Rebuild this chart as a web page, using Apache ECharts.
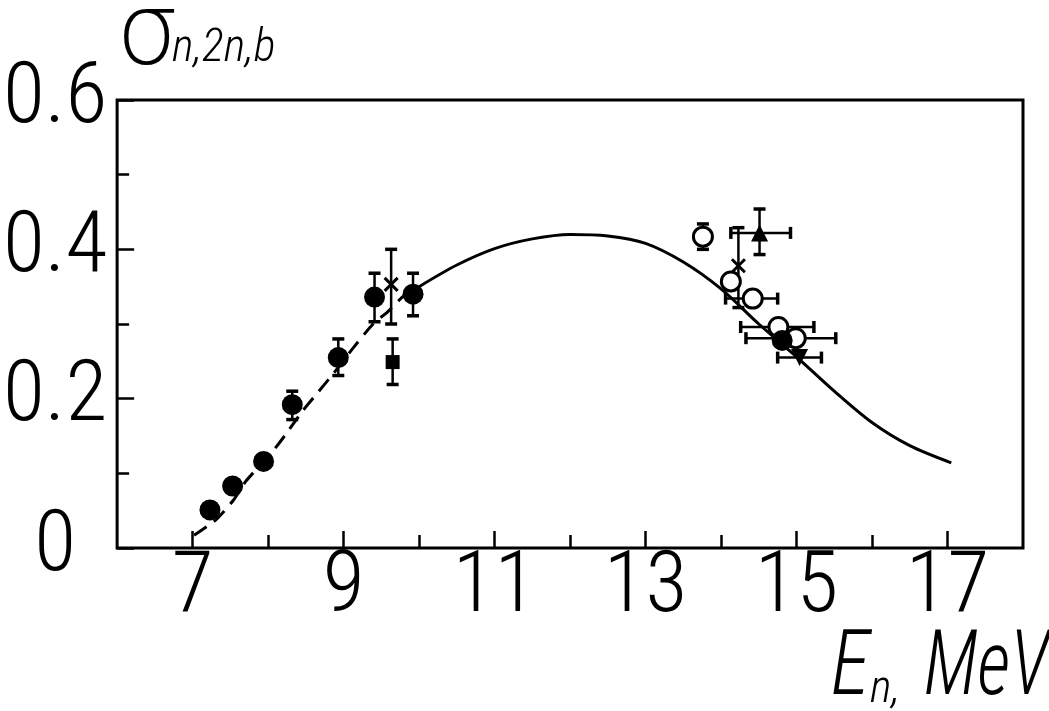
<!DOCTYPE html>
<html><head><meta charset="utf-8">
<script src="https://cdn.jsdelivr.net/npm/echarts@6/dist/echarts.min.js"></script>
<style>html,body{margin:0;padding:0;background:#fff}#c{width:1049px;height:711px}</style>
</head><body><div id="c"></div>
<script>
// ---- data ----
const xMinorTicks = [7, 8, 9, 10, 11, 12, 13, 14, 15, 16, 17];
const xMajorTicks = [7, 9, 11, 13, 15, 17];
const yMajorTicks = [0, 0.2, 0.4, 0.6];
const yTickLabels = ['0', '0.2', '0.4', '0.6'];

// dashed (evaluated) curve, low-energy part
const dashX = [7.02, 7.3, 7.54, 7.71, 8.05, 8.24, 8.46, 8.64, 8.86, 9.12, 9.39, 9.58, 9.8, 10.0];
const dashY = [0.017, 0.037, 0.064, 0.09, 0.128, 0.153, 0.184, 0.206, 0.233, 0.267, 0.300, 0.316, 0.338, 0.350];
// solid curve
const solidX = [10.0, 10.5, 11.0, 11.5, 12.0, 12.5, 13.0, 13.5, 14.0, 14.5, 15.0, 15.5, 16.0, 16.5, 17.05];
const solidY = [0.350, 0.379, 0.401, 0.414, 0.420, 0.418, 0.408, 0.383, 0.347, 0.300, 0.256, 0.210, 0.168, 0.137, 0.114];

// experimental points
const filledCircleX = [7.23, 7.53, 7.94, 8.32, 8.93, 9.41, 9.92, 14.81];
const filledCircleY = [0.051, 0.083, 0.116, 0.192, 0.255, 0.336, 0.340, 0.278];
const openCircleX = [13.76, 14.13, 14.42, 14.76, 14.99];
const openCircleY = [0.417, 0.357, 0.334, 0.296, 0.281];
const crossX = [9.63, 14.23];
const crossY = [0.353, 0.378];
const squareX = [9.65];
const squareY = [0.249];
const triUpX = [14.51];
const triUpY = [0.422];
const triDownX = [15.04];
const triDownY = [0.255];

// error bars: [x, y, dx-, dx+, dy-, dy+]
const errorBars = [
  [8.32, 0.192, 0, 0, 0.020, 0.018],
  [8.93, 0.255, 0, 0, 0.024, 0.025],
  [9.41, 0.336, 0, 0, 0.033, 0.032],
  [9.92, 0.340, 0, 0, 0.029, 0.028],
  [9.63, 0.353, 0, 0, 0.053, 0.047],
  [9.65, 0.249, 0, 0, 0.030, 0.031],
  [13.76, 0.417, 0, 0, 0.017, 0.017],
  [14.51, 0.422, 0.38, 0.41, 0.029, 0.032],
  [14.23, 0.378, 0, 0, 0.056, 0.051],
  [14.42, 0.334, 0.36, 0.33, 0, 0],
  [14.76, 0.296, 0.50, 0.47, 0, 0],
  [14.99, 0.281, 0.66, 0.53, 0, 0],
  [15.04, 0.255, 0.29, 0.29, 0, 0]
];

const zip = (a, b) => a.map((v, i) => [v, b[i]]);
const FONT = '"Roboto Condensed", "Liberation Sans Narrow", "DejaVu Sans Condensed", sans-serif';

function renderErr(params, api) {
  const e = errorBars[params.dataIndex];
  const c = api.coord([e[0], e[1]]);
  const kids = [];
  const st = { stroke: '#000', lineWidth: 2.5 };
  const capSt = { stroke: '#000', lineWidth: 3.5 };
  const cap = 6;
  if (e[4] || e[5]) {
    const t = api.coord([e[0], e[1] + e[5]]);
    const b = api.coord([e[0], e[1] - e[4]]);
    kids.push({ type: 'line', shape: { x1: c[0], y1: t[1], x2: c[0], y2: b[1] }, style: st });
    kids.push({ type: 'line', shape: { x1: c[0] - cap, y1: t[1], x2: c[0] + cap, y2: t[1] }, style: capSt });
    kids.push({ type: 'line', shape: { x1: c[0] - cap, y1: b[1], x2: c[0] + cap, y2: b[1] }, style: capSt });
  }
  if (e[2] || e[3]) {
    const l = api.coord([e[0] - e[2], e[1]]);
    const r = api.coord([e[0] + e[3], e[1]]);
    kids.push({ type: 'line', shape: { x1: l[0], y1: c[1], x2: r[0], y2: c[1] }, style: st });
    kids.push({ type: 'line', shape: { x1: l[0], y1: c[1] - cap, x2: l[0], y2: c[1] + cap }, style: capSt });
    kids.push({ type: 'line', shape: { x1: r[0], y1: c[1] - cap, x2: r[0], y2: c[1] + cap }, style: capSt });
  }
  return { type: 'group', children: kids };
}

const chart = echarts.init(document.getElementById('c'), null, { renderer: 'canvas' });
const baseX = { type: 'value', min: 6, max: 18, position: 'bottom', splitLine: { show: false }, axisLine: { show: false } };
const baseY = { type: 'value', min: 0, max: 0.6, position: 'left', splitLine: { show: false }, axisLine: { show: false } };
const labelFont = { color: '#000', fontSize: 86, fontFamily: FONT, fontWeight: 300 };

chart.setOption({
  animation: false,
  backgroundColor: '#fff',
  grid: { left: 117, right: 26, top: 100, bottom: 163, show: true, borderColor: '#000', borderWidth: 3, backgroundColor: 'transparent' },
  xAxis: [
    Object.assign({}, baseX, {
      axisTick: { inside: true, length: 13, lineStyle: { color: '#000', width: 2.5 }, customValues: xMinorTicks },
      axisLabel: { show: false }
    }),
    Object.assign({}, baseX, {
      axisTick: { inside: true, length: 17, lineStyle: { color: '#000', width: 2.5 }, customValues: xMajorTicks },
      axisLabel: Object.assign({ customValues: xMajorTicks, margin: -2 }, labelFont)
    })
  ],
  yAxis: [
    Object.assign({}, baseY, {
      interval: 0.1,
      axisTick: { inside: true, length: 12, lineStyle: { color: '#000', width: 2.5 } },
      axisLabel: { show: false }
    }),
    Object.assign({}, baseY, {
      axisTick: { inside: true, length: 17, lineStyle: { color: '#000', width: 2.5 }, customValues: yMajorTicks },
      axisLabel: Object.assign({
        customValues: yMajorTicks, margin: 62, align: 'center', padding: [6, 0, 0, 0],
        formatter: v => yTickLabels[yMajorTicks.findIndex(t => Math.abs(t - v) < 1e-6)]
      }, labelFont)
    })
  ],
  graphic: [
    { type: 'text', x: 116, y: 88,
      style: { text: 'σ', fontSize: 100, fontFamily: '"DejaVu Sans", sans-serif', fontWeight: 200, fill: '#000', align: 'left', verticalAlign: 'bottom' } },
    { type: 'text', x: 172, y: 72,
      style: { text: 'n,2n,b', fontSize: 46, fontFamily: FONT, fontWeight: 300, fontStyle: 'italic', fill: '#000', align: 'left', verticalAlign: 'bottom' } },
    { type: 'text', x: 831, y: 717, scaleX: 0.88,
      style: { text: 'E', fontSize: 91, fontFamily: FONT, fontWeight: 300, fontStyle: 'italic', fill: '#000', align: 'left', verticalAlign: 'bottom' } },
    { type: 'text', x: 870, y: 713,
      style: { text: 'n,', fontSize: 46, fontFamily: FONT, fontWeight: 300, fontStyle: 'italic', fill: '#000', align: 'left', verticalAlign: 'bottom' } },
    { type: 'text', x: 1049, y: 716, scaleX: 0.82,
      style: { text: 'MeV', fontSize: 90, fontFamily: FONT, fontWeight: 300, fontStyle: 'italic', fill: '#000', align: 'right', verticalAlign: 'bottom' } }
  ],
  series: [
    { type: 'line', xAxisIndex: 0, yAxisIndex: 0, data: zip(dashX, dashY), smooth: 0.2, showSymbol: false, symbol: 'none',
      lineStyle: { color: '#000', width: 3, type: [15, 9] }, z: 2 },
    { type: 'line', xAxisIndex: 0, yAxisIndex: 0, data: zip(solidX, solidY), smooth: 0.3, showSymbol: false, symbol: 'none',
      lineStyle: { color: '#000', width: 3 }, z: 2 },
    { type: 'custom', xAxisIndex: 0, yAxisIndex: 0, renderItem: renderErr, data: errorBars.map(e => [e[0], e[1]]),
      encode: { x: 0, y: 1 }, z: 3 },
    { type: 'scatter', xAxisIndex: 0, yAxisIndex: 0, data: zip(filledCircleX, filledCircleY), symbol: 'circle', symbolSize: 21,
      itemStyle: { color: '#000', opacity: 1 }, z: 5 },
    { type: 'scatter', xAxisIndex: 0, yAxisIndex: 0, data: zip(openCircleX, openCircleY), symbol: 'circle', symbolSize: 19,
      itemStyle: { color: '#fff', borderColor: '#000', borderWidth: 3, opacity: 1 }, z: 4 },
    { type: 'scatter', xAxisIndex: 0, yAxisIndex: 0, data: zip(squareX, squareY), symbol: 'rect', symbolSize: 14,
      itemStyle: { color: '#000', opacity: 1 }, z: 5 },
    { type: 'scatter', xAxisIndex: 0, yAxisIndex: 0, data: zip(crossX, crossY), symbol: 'path://M0,0L10,10M10,0L0,10', symbolSize: 13,
      itemStyle: { color: '#000', borderColor: '#000', borderWidth: 3, opacity: 1 }, z: 5 },
    { type: 'scatter', xAxisIndex: 0, yAxisIndex: 0, data: zip(triUpX, triUpY), symbol: 'triangle', symbolSize: 17,
      itemStyle: { color: '#000', opacity: 1 }, z: 5 },
    { type: 'scatter', xAxisIndex: 0, yAxisIndex: 0, data: zip(triDownX, triDownY), symbol: 'triangle', symbolRotate: 180, symbolSize: 17,
      itemStyle: { color: '#000', opacity: 1 }, z: 5 }
  ]
});
</script></body></html>
